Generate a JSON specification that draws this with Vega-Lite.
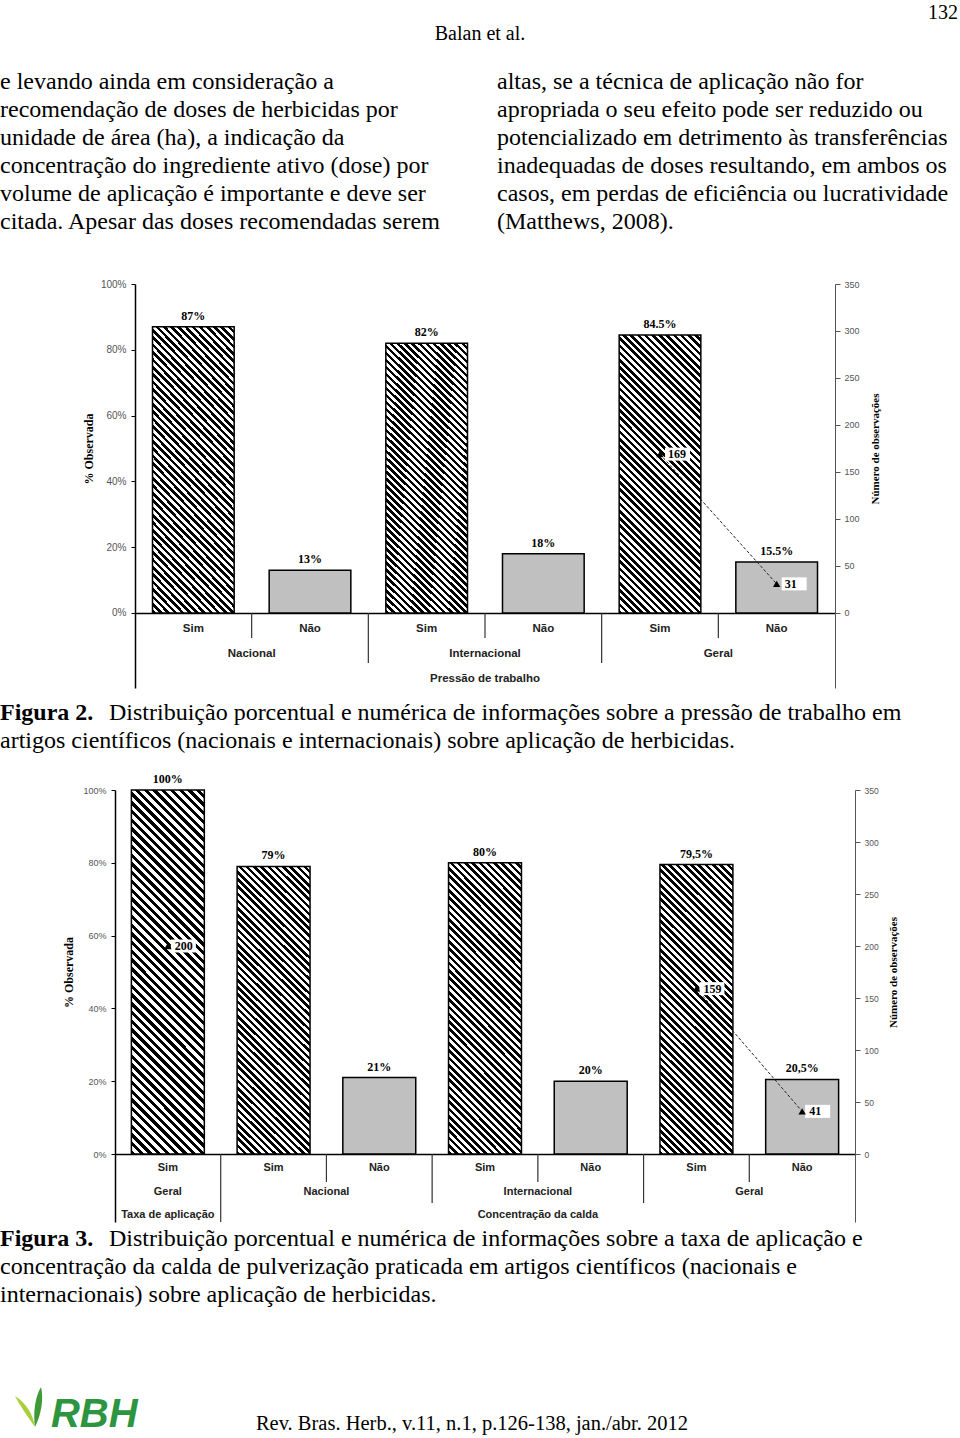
{
"$schema":"https://vega.github.io/schema/vega-lite/v6.json",
"background":"white",
"padding":0,
"spacing":0,
"bounds":"flush",
"config":{"view":{"stroke":null}},
"vconcat":[
{
"width":960,"height":284,
"data":{"values":[
{"col":"left","line":1,"text":"e levando ainda em consideração a"},
{"col":"left","line":2,"text":"recomendação de doses de herbicidas por"},
{"col":"left","line":3,"text":"unidade de área (ha), a indicação da"},
{"col":"left","line":4,"text":"concentração do ingrediente ativo (dose) por"},
{"col":"left","line":5,"text":"volume de aplicação é importante e deve ser"},
{"col":"left","line":6,"text":"citada. Apesar das doses recomendadas serem"},
{"col":"right","line":1,"text":"altas, se a técnica de aplicação não for"},
{"col":"right","line":2,"text":"apropriada o seu efeito pode ser reduzido ou"},
{"col":"right","line":3,"text":"potencializado em detrimento às transferências"},
{"col":"right","line":4,"text":"inadequadas de doses resultando, em ambos os"},
{"col":"right","line":5,"text":"casos, em perdas de eficiência ou lucratividade"},
{"col":"right","line":6,"text":"(Matthews, 2008)."}
]},
"layer":[
{"mark":{"type":"text","align":"left","baseline":"alphabetic","font":"Liberation Serif","fontSize":24,"color":"#000"},
"encoding":{
"x":{"field":"col","type":"nominal","bandPosition":0,"scale":{"type":"band","domain":["left","right"],"paddingInner":0.0684,"paddingOuter":0},"axis":null},
"y":{"field":"line","type":"quantitative","scale":{"domain":[-2.1786,7.9643],"reverse":true,"nice":false,"zero":false},"axis":null},
"text":{"field":"text"}}},
{"data":{"values":[{"text":"Balan et al."}]},
"mark":{"type":"text","align":"center","baseline":"alphabetic","font":"Liberation Serif","fontSize":20,"color":"#000"},
"encoding":{"x":{"datum":"left","bandPosition":1.0367,"axis":null},"y":{"datum":-0.75,"axis":null},"text":{"field":"text"}}},
{"data":{"values":[{"text":"132"}]},
"mark":{"type":"text","align":"right","baseline":"alphabetic","font":"Liberation Serif","fontSize":20,"color":"#000"},
"encoding":{"x":{"datum":"right","bandPosition":0.9957,"axis":null},"y":{"datum":-1.5,"axis":null},"text":{"field":"text"}}}
]
},
{
"width":960,"height":404,
"data":{"values":[
{"cat":"N-S","sub":"Sim","grp":"Nacional","l3":"Pressão de trabalho","pct":87,"label":"87%"},
{"cat":"N-N","sub":"Não","grp":"Nacional","l3":"Pressão de trabalho","pct":13,"label":"13%"},
{"cat":"I-S","sub":"Sim","grp":"Internacional","l3":"Pressão de trabalho","pct":82,"label":"82%"},
{"cat":"I-N","sub":"Não","grp":"Internacional","l3":"Pressão de trabalho","pct":18,"label":"18%"},
{"cat":"G-S","sub":"Sim","grp":"Geral","l3":"Pressão de trabalho","pct":84.5,"label":"84.5%","n":169},
{"cat":"G-N","sub":"Não","grp":"Geral","l3":"Pressão de trabalho","pct":15.5,"label":"15.5%","n":31}
]},
"layer":[
{"layer":[
{"mark":{"type":"bar","width":{"band":0.7},"stroke":"#000","strokeWidth":1.5},
"encoding":{
"x":{"field":"cat","type":"nominal","scale":{"domain":["N-S","N-N","I-S","I-N","G-S","G-N"],"range":[135,835],"paddingInner":0,"paddingOuter":0},
"axis":{"orient":"bottom","offset":-75,"domain":true,"domainColor":"#000","domainWidth":1.5,"ticks":false,"labels":false,"title":null,"grid":false}},
"y":{"field":"pct","type":"quantitative","scale":{"domain":[-22.8,100],"nice":false,"zero":false},
"axis":{"orient":"left","offset":-135,"values":[0,20,40,60,80,100],"labelExpr":"datum.value + '%'","labelFont":"Liberation Sans","labelFontSize":10,"labelColor":"#555","labelPadding":5,"tickSize":4,"tickColor":"#000","domainColor":"#000","domainWidth":1.5,"grid":false,"title":"% Observada","titleFont":"Liberation Serif","titleFontSize":12,"titleFontWeight":"bold","titleColor":"#000","titleAngle":270,"titleX":-47,"titleY":164.5,"titleBaseline":"middle","titleAlign":"center"}},
"y2":{"datum":0},
"color":{"condition":{"test":"datum.sub == 'Sim'","value":{"gradient":"linear","x1":0,"y1":1,"x2":0.35,"y2":-0.191,"stops":[
{"offset":0,"color":"#000"},{"offset":0.01,"color":"#000"},{"offset":0.01,"color":"#fff"},{"offset":0.02,"color":"#fff"},{"offset":0.02,"color":"#000"},{"offset":0.03,"color":"#000"},{"offset":0.03,"color":"#fff"},{"offset":0.04,"color":"#fff"},{"offset":0.04,"color":"#000"},{"offset":0.05,"color":"#000"},{"offset":0.05,"color":"#fff"},{"offset":0.06,"color":"#fff"},{"offset":0.06,"color":"#000"},{"offset":0.07,"color":"#000"},{"offset":0.07,"color":"#fff"},{"offset":0.08,"color":"#fff"},{"offset":0.08,"color":"#000"},{"offset":0.09,"color":"#000"},{"offset":0.09,"color":"#fff"},{"offset":0.1,"color":"#fff"},
{"offset":0.1,"color":"#000"},{"offset":0.11,"color":"#000"},{"offset":0.11,"color":"#fff"},{"offset":0.12,"color":"#fff"},{"offset":0.12,"color":"#000"},{"offset":0.13,"color":"#000"},{"offset":0.13,"color":"#fff"},{"offset":0.14,"color":"#fff"},{"offset":0.14,"color":"#000"},{"offset":0.15,"color":"#000"},{"offset":0.15,"color":"#fff"},{"offset":0.16,"color":"#fff"},{"offset":0.16,"color":"#000"},{"offset":0.17,"color":"#000"},{"offset":0.17,"color":"#fff"},{"offset":0.18,"color":"#fff"},{"offset":0.18,"color":"#000"},{"offset":0.19,"color":"#000"},{"offset":0.19,"color":"#fff"},{"offset":0.2,"color":"#fff"},
{"offset":0.2,"color":"#000"},{"offset":0.21,"color":"#000"},{"offset":0.21,"color":"#fff"},{"offset":0.22,"color":"#fff"},{"offset":0.22,"color":"#000"},{"offset":0.23,"color":"#000"},{"offset":0.23,"color":"#fff"},{"offset":0.24,"color":"#fff"},{"offset":0.24,"color":"#000"},{"offset":0.25,"color":"#000"},{"offset":0.25,"color":"#fff"},{"offset":0.26,"color":"#fff"},{"offset":0.26,"color":"#000"},{"offset":0.27,"color":"#000"},{"offset":0.27,"color":"#fff"},{"offset":0.28,"color":"#fff"},{"offset":0.28,"color":"#000"},{"offset":0.29,"color":"#000"},{"offset":0.29,"color":"#fff"},{"offset":0.3,"color":"#fff"},
{"offset":0.3,"color":"#000"},{"offset":0.31,"color":"#000"},{"offset":0.31,"color":"#fff"},{"offset":0.32,"color":"#fff"},{"offset":0.32,"color":"#000"},{"offset":0.33,"color":"#000"},{"offset":0.33,"color":"#fff"},{"offset":0.34,"color":"#fff"},{"offset":0.34,"color":"#000"},{"offset":0.35,"color":"#000"},{"offset":0.35,"color":"#fff"},{"offset":0.36,"color":"#fff"},{"offset":0.36,"color":"#000"},{"offset":0.37,"color":"#000"},{"offset":0.37,"color":"#fff"},{"offset":0.38,"color":"#fff"},{"offset":0.38,"color":"#000"},{"offset":0.39,"color":"#000"},{"offset":0.39,"color":"#fff"},{"offset":0.4,"color":"#fff"},
{"offset":0.4,"color":"#000"},{"offset":0.41,"color":"#000"},{"offset":0.41,"color":"#fff"},{"offset":0.42,"color":"#fff"},{"offset":0.42,"color":"#000"},{"offset":0.43,"color":"#000"},{"offset":0.43,"color":"#fff"},{"offset":0.44,"color":"#fff"},{"offset":0.44,"color":"#000"},{"offset":0.45,"color":"#000"},{"offset":0.45,"color":"#fff"},{"offset":0.46,"color":"#fff"},{"offset":0.46,"color":"#000"},{"offset":0.47,"color":"#000"},{"offset":0.47,"color":"#fff"},{"offset":0.48,"color":"#fff"},{"offset":0.48,"color":"#000"},{"offset":0.49,"color":"#000"},{"offset":0.49,"color":"#fff"},{"offset":0.5,"color":"#fff"},
{"offset":0.5,"color":"#000"},{"offset":0.51,"color":"#000"},{"offset":0.51,"color":"#fff"},{"offset":0.52,"color":"#fff"},{"offset":0.52,"color":"#000"},{"offset":0.53,"color":"#000"},{"offset":0.53,"color":"#fff"},{"offset":0.54,"color":"#fff"},{"offset":0.54,"color":"#000"},{"offset":0.55,"color":"#000"},{"offset":0.55,"color":"#fff"},{"offset":0.56,"color":"#fff"},{"offset":0.56,"color":"#000"},{"offset":0.57,"color":"#000"},{"offset":0.57,"color":"#fff"},{"offset":0.58,"color":"#fff"},{"offset":0.58,"color":"#000"},{"offset":0.59,"color":"#000"},{"offset":0.59,"color":"#fff"},{"offset":0.6,"color":"#fff"},
{"offset":0.6,"color":"#000"},{"offset":0.61,"color":"#000"},{"offset":0.61,"color":"#fff"},{"offset":0.62,"color":"#fff"},{"offset":0.62,"color":"#000"},{"offset":0.63,"color":"#000"},{"offset":0.63,"color":"#fff"},{"offset":0.64,"color":"#fff"},{"offset":0.64,"color":"#000"},{"offset":0.65,"color":"#000"},{"offset":0.65,"color":"#fff"},{"offset":0.66,"color":"#fff"},{"offset":0.66,"color":"#000"},{"offset":0.67,"color":"#000"},{"offset":0.67,"color":"#fff"},{"offset":0.68,"color":"#fff"},{"offset":0.68,"color":"#000"},{"offset":0.69,"color":"#000"},{"offset":0.69,"color":"#fff"},{"offset":0.7,"color":"#fff"},
{"offset":0.7,"color":"#000"},{"offset":0.71,"color":"#000"},{"offset":0.71,"color":"#fff"},{"offset":0.72,"color":"#fff"},{"offset":0.72,"color":"#000"},{"offset":0.73,"color":"#000"},{"offset":0.73,"color":"#fff"},{"offset":0.74,"color":"#fff"},{"offset":0.74,"color":"#000"},{"offset":0.75,"color":"#000"},{"offset":0.75,"color":"#fff"},{"offset":0.76,"color":"#fff"},{"offset":0.76,"color":"#000"},{"offset":0.77,"color":"#000"},{"offset":0.77,"color":"#fff"},{"offset":0.78,"color":"#fff"},{"offset":0.78,"color":"#000"},{"offset":0.79,"color":"#000"},{"offset":0.79,"color":"#fff"},{"offset":0.8,"color":"#fff"},
{"offset":0.8,"color":"#000"},{"offset":0.81,"color":"#000"},{"offset":0.81,"color":"#fff"},{"offset":0.82,"color":"#fff"},{"offset":0.82,"color":"#000"},{"offset":0.83,"color":"#000"},{"offset":0.83,"color":"#fff"},{"offset":0.84,"color":"#fff"},{"offset":0.84,"color":"#000"},{"offset":0.85,"color":"#000"},{"offset":0.85,"color":"#fff"},{"offset":0.86,"color":"#fff"},{"offset":0.86,"color":"#000"},{"offset":0.87,"color":"#000"},{"offset":0.87,"color":"#fff"},{"offset":0.88,"color":"#fff"},{"offset":0.88,"color":"#000"},{"offset":0.89,"color":"#000"},{"offset":0.89,"color":"#fff"},{"offset":0.9,"color":"#fff"},
{"offset":0.9,"color":"#000"},{"offset":0.91,"color":"#000"},{"offset":0.91,"color":"#fff"},{"offset":0.92,"color":"#fff"},{"offset":0.92,"color":"#000"},{"offset":0.93,"color":"#000"},{"offset":0.93,"color":"#fff"},{"offset":0.94,"color":"#fff"},{"offset":0.94,"color":"#000"},{"offset":0.95,"color":"#000"},{"offset":0.95,"color":"#fff"},{"offset":0.96,"color":"#fff"},{"offset":0.96,"color":"#000"},{"offset":0.97,"color":"#000"},{"offset":0.97,"color":"#fff"},{"offset":0.98,"color":"#fff"},{"offset":0.98,"color":"#000"},{"offset":0.99,"color":"#000"},{"offset":0.99,"color":"#fff"},{"offset":1,"color":"#fff"}
]}},"value":"#c0c0c0"}
}},
{"mark":{"type":"text","baseline":"bottom","dy":-4,"font":"Liberation Serif","fontWeight":"bold","fontSize":12,"color":"#000"},
"encoding":{"x":{"field":"cat","type":"nominal"},"y":{"field":"pct","type":"quantitative"},"text":{"field":"label"}}},
{"transform":[{"filter":"datum.sub == 'Não'"}],
"mark":{"type":"rule","color":"#333","strokeWidth":1.2},
"encoding":{"x":{"field":"cat","type":"nominal","bandPosition":0},"y":{"datum":0},"y2":{"datum":-7.6}}},
{"transform":[{"filter":"datum.sub == 'Sim' && datum.grp != 'Nacional'"}],
"mark":{"type":"rule","color":"#333","strokeWidth":1.2},
"encoding":{"x":{"field":"cat","type":"nominal","bandPosition":0},"y":{"datum":0},"y2":{"datum":-15.2}}},
{"mark":{"type":"text","font":"Liberation Sans","fontWeight":"bold","fontSize":11.5,"color":"#222"},
"encoding":{"x":{"field":"cat","type":"nominal"},"y":{"datum":-4.86},"text":{"field":"sub"}}},
{"transform":[{"filter":"datum.sub == 'Não'"}],
"mark":{"type":"text","font":"Liberation Sans","fontWeight":"bold","fontSize":11.5,"color":"#222"},
"encoding":{"x":{"field":"cat","type":"nominal","bandPosition":0},"y":{"datum":-12.46},"text":{"field":"grp"}}},
{"transform":[{"filter":"datum.cat == 'I-N'"}],
"mark":{"type":"text","font":"Liberation Sans","fontWeight":"bold","fontSize":11.5,"color":"#222"},
"encoding":{"x":{"field":"cat","type":"nominal","bandPosition":0},"y":{"datum":-20.06},"text":{"field":"l3"}}}
]},
{"transform":[{"filter":"isValid(datum.n)"}],
"layer":[
{"mark":{"type":"line","color":"#222","strokeWidth":1,"strokeDash":[3,2]},
"encoding":{"x":{"field":"cat","type":"nominal"},
"y":{"field":"n","type":"quantitative","scale":{"domain":[-79.79,350],"nice":false,"zero":false},
"axis":{"orient":"right","offset":-125,"values":[0,50,100,150,200,250,300,350],"labelFont":"Liberation Sans","labelFontSize":9,"labelColor":"#555","labelPadding":4,"tickSize":5,"tickColor":"#555","domainColor":"#555","domainWidth":1,"grid":false,"title":"Número de observações","titleFont":"Liberation Serif","titleFontSize":11,"titleFontWeight":"bold","titleColor":"#000","titleAngle":270,"titleX":40,"titleY":164.5,"titleBaseline":"middle","titleAlign":"center"}}}},
{"mark":{"type":"point","shape":"M0.5,-0.65H3V0.65H0.5Z","filled":true,"color":"#fff","opacity":1,"size":400,"strokeWidth":0},
"encoding":{"x":{"field":"cat","type":"nominal"},"y":{"field":"n","type":"quantitative"}}},
{"mark":{"type":"point","shape":"triangle-up","filled":true,"color":"#000","opacity":1,"size":55},
"encoding":{"x":{"field":"cat","type":"nominal"},"y":{"field":"n","type":"quantitative"}}},
{"mark":{"type":"text","align":"left","dx":8,"font":"Liberation Serif","fontWeight":"bold","fontSize":12,"color":"#000"},
"encoding":{"x":{"field":"cat","type":"nominal"},"y":{"field":"n","type":"quantitative"},"text":{"field":"n","type":"nominal"}}}
]}
],
"resolve":{"scale":{"y":"independent"}}
},
{
"width":960,"height":102,
"data":{"values":[
{"line":1,"part":"b","text":"Figura 2."},
{"line":1,"part":"a","text":"Distribuição porcentual e numérica de informações sobre a pressão de trabalho em"},
{"line":2,"part":"c","text":"artigos científicos (nacionais e internacionais) sobre aplicação de herbicidas."}
]},
"layer":[
{"transform":[{"filter":"datum.part == 'b'"}],
"mark":{"type":"text","align":"left","baseline":"alphabetic","font":"Liberation Serif","fontSize":24,"fontWeight":"bold","color":"#000"},
"encoding":{"x":{"datum":"left","bandPosition":0,"scale":{"type":"band","domain":["left","right"],"paddingInner":0.0684,"paddingOuter":0},"axis":null},
"y":{"field":"line","type":"quantitative","scale":{"domain":[-0.1429,3.5],"reverse":true,"nice":false,"zero":false},"axis":null},"text":{"field":"text"}}},
{"transform":[{"filter":"datum.part == 'a'"}],
"mark":{"type":"text","align":"left","baseline":"alphabetic","font":"Liberation Serif","fontSize":24,"color":"#000"},
"encoding":{"x":{"datum":"left","bandPosition":0.2354,"axis":null},"y":{"field":"line","type":"quantitative","axis":null},"text":{"field":"text"}}},
{"transform":[{"filter":"datum.part == 'c'"}],
"mark":{"type":"text","align":"left","baseline":"alphabetic","font":"Liberation Serif","fontSize":24,"color":"#000"},
"encoding":{"x":{"datum":"left","bandPosition":0,"axis":null},"y":{"field":"line","type":"quantitative","axis":null},"text":{"field":"text"}}}
]
},
{
"width":960,"height":432,
"data":{"values":[
{"cat":"T-G-S","sub":"Sim","grp":"Geral","l3":"Taxa de aplicação","pct":100,"label":"100%","n":200},
{"cat":"C-N-S","sub":"Sim","grp":"Nacional","l3":"Concentração da calda","pct":79,"label":"79%"},
{"cat":"C-N-N","sub":"Não","grp":"Nacional","l3":"Concentração da calda","pct":21,"label":"21%"},
{"cat":"C-I-S","sub":"Sim","grp":"Internacional","l3":"Concentração da calda","pct":80,"label":"80%"},
{"cat":"C-I-N","sub":"Não","grp":"Internacional","l3":"Concentração da calda","pct":20,"label":"20%"},
{"cat":"C-G-S","sub":"Sim","grp":"Geral","l3":"Concentração da calda","pct":79.5,"label":"79,5%","n":159},
{"cat":"C-G-N","sub":"Não","grp":"Geral","l3":"Concentração da calda","pct":20.5,"label":"20,5%","n":41}
]},
"layer":[
{"layer":[
{"mark":{"type":"bar","width":{"band":0.69},"stroke":"#000","strokeWidth":1.5},
"encoding":{
"x":{"field":"cat","type":"nominal","scale":{"domain":["T-G-S","C-N-S","C-N-N","C-I-S","C-I-N","C-G-S","C-G-N"],"range":[115,855],"paddingInner":0,"paddingOuter":0},
"axis":{"orient":"bottom","offset":-68,"domain":true,"domainColor":"#000","domainWidth":1.5,"ticks":false,"labels":false,"title":null,"grid":false}},
"y":{"field":"pct","type":"quantitative","scale":{"domain":[-18.68,100],"nice":false,"zero":false},
"axis":{"orient":"left","offset":-115,"values":[0,20,40,60,80,100],"labelExpr":"datum.value + '%'","labelFont":"Liberation Sans","labelFontSize":9,"labelColor":"#555","labelPadding":5,"tickSize":4,"tickColor":"#000","domainColor":"#000","domainWidth":1.5,"grid":false,"title":"% Observada","titleFont":"Liberation Serif","titleFontSize":12,"titleFontWeight":"bold","titleColor":"#000","titleAngle":270,"titleX":-47,"titleY":182,"titleBaseline":"middle","titleAlign":"center"}},
"y2":{"datum":0},
"color":{"condition":[
{"test":"datum.pct == 100","value":{"gradient":"linear","x1":0,"y1":1,"x2":0.2315,"y2":-0.154,"stops":[
{"offset":0,"color":"#000"},{"offset":0.01,"color":"#000"},{"offset":0.01,"color":"#fff"},{"offset":0.02,"color":"#fff"},{"offset":0.02,"color":"#000"},{"offset":0.03,"color":"#000"},{"offset":0.03,"color":"#fff"},{"offset":0.04,"color":"#fff"},{"offset":0.04,"color":"#000"},{"offset":0.05,"color":"#000"},{"offset":0.05,"color":"#fff"},{"offset":0.06,"color":"#fff"},{"offset":0.06,"color":"#000"},{"offset":0.07,"color":"#000"},{"offset":0.07,"color":"#fff"},{"offset":0.08,"color":"#fff"},{"offset":0.08,"color":"#000"},{"offset":0.09,"color":"#000"},{"offset":0.09,"color":"#fff"},{"offset":0.1,"color":"#fff"},
{"offset":0.1,"color":"#000"},{"offset":0.11,"color":"#000"},{"offset":0.11,"color":"#fff"},{"offset":0.12,"color":"#fff"},{"offset":0.12,"color":"#000"},{"offset":0.13,"color":"#000"},{"offset":0.13,"color":"#fff"},{"offset":0.14,"color":"#fff"},{"offset":0.14,"color":"#000"},{"offset":0.15,"color":"#000"},{"offset":0.15,"color":"#fff"},{"offset":0.16,"color":"#fff"},{"offset":0.16,"color":"#000"},{"offset":0.17,"color":"#000"},{"offset":0.17,"color":"#fff"},{"offset":0.18,"color":"#fff"},{"offset":0.18,"color":"#000"},{"offset":0.19,"color":"#000"},{"offset":0.19,"color":"#fff"},{"offset":0.2,"color":"#fff"},
{"offset":0.2,"color":"#000"},{"offset":0.21,"color":"#000"},{"offset":0.21,"color":"#fff"},{"offset":0.22,"color":"#fff"},{"offset":0.22,"color":"#000"},{"offset":0.23,"color":"#000"},{"offset":0.23,"color":"#fff"},{"offset":0.24,"color":"#fff"},{"offset":0.24,"color":"#000"},{"offset":0.25,"color":"#000"},{"offset":0.25,"color":"#fff"},{"offset":0.26,"color":"#fff"},{"offset":0.26,"color":"#000"},{"offset":0.27,"color":"#000"},{"offset":0.27,"color":"#fff"},{"offset":0.28,"color":"#fff"},{"offset":0.28,"color":"#000"},{"offset":0.29,"color":"#000"},{"offset":0.29,"color":"#fff"},{"offset":0.3,"color":"#fff"},
{"offset":0.3,"color":"#000"},{"offset":0.31,"color":"#000"},{"offset":0.31,"color":"#fff"},{"offset":0.32,"color":"#fff"},{"offset":0.32,"color":"#000"},{"offset":0.33,"color":"#000"},{"offset":0.33,"color":"#fff"},{"offset":0.34,"color":"#fff"},{"offset":0.34,"color":"#000"},{"offset":0.35,"color":"#000"},{"offset":0.35,"color":"#fff"},{"offset":0.36,"color":"#fff"},{"offset":0.36,"color":"#000"},{"offset":0.37,"color":"#000"},{"offset":0.37,"color":"#fff"},{"offset":0.38,"color":"#fff"},{"offset":0.38,"color":"#000"},{"offset":0.39,"color":"#000"},{"offset":0.39,"color":"#fff"},{"offset":0.4,"color":"#fff"},
{"offset":0.4,"color":"#000"},{"offset":0.41,"color":"#000"},{"offset":0.41,"color":"#fff"},{"offset":0.42,"color":"#fff"},{"offset":0.42,"color":"#000"},{"offset":0.43,"color":"#000"},{"offset":0.43,"color":"#fff"},{"offset":0.44,"color":"#fff"},{"offset":0.44,"color":"#000"},{"offset":0.45,"color":"#000"},{"offset":0.45,"color":"#fff"},{"offset":0.46,"color":"#fff"},{"offset":0.46,"color":"#000"},{"offset":0.47,"color":"#000"},{"offset":0.47,"color":"#fff"},{"offset":0.48,"color":"#fff"},{"offset":0.48,"color":"#000"},{"offset":0.49,"color":"#000"},{"offset":0.49,"color":"#fff"},{"offset":0.5,"color":"#fff"},
{"offset":0.5,"color":"#000"},{"offset":0.51,"color":"#000"},{"offset":0.51,"color":"#fff"},{"offset":0.52,"color":"#fff"},{"offset":0.52,"color":"#000"},{"offset":0.53,"color":"#000"},{"offset":0.53,"color":"#fff"},{"offset":0.54,"color":"#fff"},{"offset":0.54,"color":"#000"},{"offset":0.55,"color":"#000"},{"offset":0.55,"color":"#fff"},{"offset":0.56,"color":"#fff"},{"offset":0.56,"color":"#000"},{"offset":0.57,"color":"#000"},{"offset":0.57,"color":"#fff"},{"offset":0.58,"color":"#fff"},{"offset":0.58,"color":"#000"},{"offset":0.59,"color":"#000"},{"offset":0.59,"color":"#fff"},{"offset":0.6,"color":"#fff"},
{"offset":0.6,"color":"#000"},{"offset":0.61,"color":"#000"},{"offset":0.61,"color":"#fff"},{"offset":0.62,"color":"#fff"},{"offset":0.62,"color":"#000"},{"offset":0.63,"color":"#000"},{"offset":0.63,"color":"#fff"},{"offset":0.64,"color":"#fff"},{"offset":0.64,"color":"#000"},{"offset":0.65,"color":"#000"},{"offset":0.65,"color":"#fff"},{"offset":0.66,"color":"#fff"},{"offset":0.66,"color":"#000"},{"offset":0.67,"color":"#000"},{"offset":0.67,"color":"#fff"},{"offset":0.68,"color":"#fff"},{"offset":0.68,"color":"#000"},{"offset":0.69,"color":"#000"},{"offset":0.69,"color":"#fff"},{"offset":0.7,"color":"#fff"},
{"offset":0.7,"color":"#000"},{"offset":0.71,"color":"#000"},{"offset":0.71,"color":"#fff"},{"offset":0.72,"color":"#fff"},{"offset":0.72,"color":"#000"},{"offset":0.73,"color":"#000"},{"offset":0.73,"color":"#fff"},{"offset":0.74,"color":"#fff"},{"offset":0.74,"color":"#000"},{"offset":0.75,"color":"#000"},{"offset":0.75,"color":"#fff"},{"offset":0.76,"color":"#fff"},{"offset":0.76,"color":"#000"},{"offset":0.77,"color":"#000"},{"offset":0.77,"color":"#fff"},{"offset":0.78,"color":"#fff"},{"offset":0.78,"color":"#000"},{"offset":0.79,"color":"#000"},{"offset":0.79,"color":"#fff"},{"offset":0.8,"color":"#fff"},
{"offset":0.8,"color":"#000"},{"offset":0.81,"color":"#000"},{"offset":0.81,"color":"#fff"},{"offset":0.82,"color":"#fff"},{"offset":0.82,"color":"#000"},{"offset":0.83,"color":"#000"},{"offset":0.83,"color":"#fff"},{"offset":0.84,"color":"#fff"},{"offset":0.84,"color":"#000"},{"offset":0.85,"color":"#000"},{"offset":0.85,"color":"#fff"},{"offset":0.86,"color":"#fff"},{"offset":0.86,"color":"#000"},{"offset":0.87,"color":"#000"},{"offset":0.87,"color":"#fff"},{"offset":0.88,"color":"#fff"},{"offset":0.88,"color":"#000"},{"offset":0.89,"color":"#000"},{"offset":0.89,"color":"#fff"},{"offset":0.9,"color":"#fff"},
{"offset":0.9,"color":"#000"},{"offset":0.91,"color":"#000"},{"offset":0.91,"color":"#fff"},{"offset":0.92,"color":"#fff"},{"offset":0.92,"color":"#000"},{"offset":0.93,"color":"#000"},{"offset":0.93,"color":"#fff"},{"offset":0.94,"color":"#fff"},{"offset":0.94,"color":"#000"},{"offset":0.95,"color":"#000"},{"offset":0.95,"color":"#fff"},{"offset":0.96,"color":"#fff"},{"offset":0.96,"color":"#000"},{"offset":0.97,"color":"#000"},{"offset":0.97,"color":"#fff"},{"offset":0.98,"color":"#fff"},{"offset":0.98,"color":"#000"},{"offset":0.99,"color":"#000"},{"offset":0.99,"color":"#fff"},{"offset":1,"color":"#fff"}
]}},
{"test":"datum.sub == 'Sim'","value":{"gradient":"linear","x1":0,"y1":1,"x2":0.296,"y2":-0.177,"stops":[
{"offset":0,"color":"#000"},{"offset":0.01,"color":"#000"},{"offset":0.01,"color":"#fff"},{"offset":0.02,"color":"#fff"},{"offset":0.02,"color":"#000"},{"offset":0.03,"color":"#000"},{"offset":0.03,"color":"#fff"},{"offset":0.04,"color":"#fff"},{"offset":0.04,"color":"#000"},{"offset":0.05,"color":"#000"},{"offset":0.05,"color":"#fff"},{"offset":0.06,"color":"#fff"},{"offset":0.06,"color":"#000"},{"offset":0.07,"color":"#000"},{"offset":0.07,"color":"#fff"},{"offset":0.08,"color":"#fff"},{"offset":0.08,"color":"#000"},{"offset":0.09,"color":"#000"},{"offset":0.09,"color":"#fff"},{"offset":0.1,"color":"#fff"},
{"offset":0.1,"color":"#000"},{"offset":0.11,"color":"#000"},{"offset":0.11,"color":"#fff"},{"offset":0.12,"color":"#fff"},{"offset":0.12,"color":"#000"},{"offset":0.13,"color":"#000"},{"offset":0.13,"color":"#fff"},{"offset":0.14,"color":"#fff"},{"offset":0.14,"color":"#000"},{"offset":0.15,"color":"#000"},{"offset":0.15,"color":"#fff"},{"offset":0.16,"color":"#fff"},{"offset":0.16,"color":"#000"},{"offset":0.17,"color":"#000"},{"offset":0.17,"color":"#fff"},{"offset":0.18,"color":"#fff"},{"offset":0.18,"color":"#000"},{"offset":0.19,"color":"#000"},{"offset":0.19,"color":"#fff"},{"offset":0.2,"color":"#fff"},
{"offset":0.2,"color":"#000"},{"offset":0.21,"color":"#000"},{"offset":0.21,"color":"#fff"},{"offset":0.22,"color":"#fff"},{"offset":0.22,"color":"#000"},{"offset":0.23,"color":"#000"},{"offset":0.23,"color":"#fff"},{"offset":0.24,"color":"#fff"},{"offset":0.24,"color":"#000"},{"offset":0.25,"color":"#000"},{"offset":0.25,"color":"#fff"},{"offset":0.26,"color":"#fff"},{"offset":0.26,"color":"#000"},{"offset":0.27,"color":"#000"},{"offset":0.27,"color":"#fff"},{"offset":0.28,"color":"#fff"},{"offset":0.28,"color":"#000"},{"offset":0.29,"color":"#000"},{"offset":0.29,"color":"#fff"},{"offset":0.3,"color":"#fff"},
{"offset":0.3,"color":"#000"},{"offset":0.31,"color":"#000"},{"offset":0.31,"color":"#fff"},{"offset":0.32,"color":"#fff"},{"offset":0.32,"color":"#000"},{"offset":0.33,"color":"#000"},{"offset":0.33,"color":"#fff"},{"offset":0.34,"color":"#fff"},{"offset":0.34,"color":"#000"},{"offset":0.35,"color":"#000"},{"offset":0.35,"color":"#fff"},{"offset":0.36,"color":"#fff"},{"offset":0.36,"color":"#000"},{"offset":0.37,"color":"#000"},{"offset":0.37,"color":"#fff"},{"offset":0.38,"color":"#fff"},{"offset":0.38,"color":"#000"},{"offset":0.39,"color":"#000"},{"offset":0.39,"color":"#fff"},{"offset":0.4,"color":"#fff"},
{"offset":0.4,"color":"#000"},{"offset":0.41,"color":"#000"},{"offset":0.41,"color":"#fff"},{"offset":0.42,"color":"#fff"},{"offset":0.42,"color":"#000"},{"offset":0.43,"color":"#000"},{"offset":0.43,"color":"#fff"},{"offset":0.44,"color":"#fff"},{"offset":0.44,"color":"#000"},{"offset":0.45,"color":"#000"},{"offset":0.45,"color":"#fff"},{"offset":0.46,"color":"#fff"},{"offset":0.46,"color":"#000"},{"offset":0.47,"color":"#000"},{"offset":0.47,"color":"#fff"},{"offset":0.48,"color":"#fff"},{"offset":0.48,"color":"#000"},{"offset":0.49,"color":"#000"},{"offset":0.49,"color":"#fff"},{"offset":0.5,"color":"#fff"},
{"offset":0.5,"color":"#000"},{"offset":0.51,"color":"#000"},{"offset":0.51,"color":"#fff"},{"offset":0.52,"color":"#fff"},{"offset":0.52,"color":"#000"},{"offset":0.53,"color":"#000"},{"offset":0.53,"color":"#fff"},{"offset":0.54,"color":"#fff"},{"offset":0.54,"color":"#000"},{"offset":0.55,"color":"#000"},{"offset":0.55,"color":"#fff"},{"offset":0.56,"color":"#fff"},{"offset":0.56,"color":"#000"},{"offset":0.57,"color":"#000"},{"offset":0.57,"color":"#fff"},{"offset":0.58,"color":"#fff"},{"offset":0.58,"color":"#000"},{"offset":0.59,"color":"#000"},{"offset":0.59,"color":"#fff"},{"offset":0.6,"color":"#fff"},
{"offset":0.6,"color":"#000"},{"offset":0.61,"color":"#000"},{"offset":0.61,"color":"#fff"},{"offset":0.62,"color":"#fff"},{"offset":0.62,"color":"#000"},{"offset":0.63,"color":"#000"},{"offset":0.63,"color":"#fff"},{"offset":0.64,"color":"#fff"},{"offset":0.64,"color":"#000"},{"offset":0.65,"color":"#000"},{"offset":0.65,"color":"#fff"},{"offset":0.66,"color":"#fff"},{"offset":0.66,"color":"#000"},{"offset":0.67,"color":"#000"},{"offset":0.67,"color":"#fff"},{"offset":0.68,"color":"#fff"},{"offset":0.68,"color":"#000"},{"offset":0.69,"color":"#000"},{"offset":0.69,"color":"#fff"},{"offset":0.7,"color":"#fff"},
{"offset":0.7,"color":"#000"},{"offset":0.71,"color":"#000"},{"offset":0.71,"color":"#fff"},{"offset":0.72,"color":"#fff"},{"offset":0.72,"color":"#000"},{"offset":0.73,"color":"#000"},{"offset":0.73,"color":"#fff"},{"offset":0.74,"color":"#fff"},{"offset":0.74,"color":"#000"},{"offset":0.75,"color":"#000"},{"offset":0.75,"color":"#fff"},{"offset":0.76,"color":"#fff"},{"offset":0.76,"color":"#000"},{"offset":0.77,"color":"#000"},{"offset":0.77,"color":"#fff"},{"offset":0.78,"color":"#fff"},{"offset":0.78,"color":"#000"},{"offset":0.79,"color":"#000"},{"offset":0.79,"color":"#fff"},{"offset":0.8,"color":"#fff"},
{"offset":0.8,"color":"#000"},{"offset":0.81,"color":"#000"},{"offset":0.81,"color":"#fff"},{"offset":0.82,"color":"#fff"},{"offset":0.82,"color":"#000"},{"offset":0.83,"color":"#000"},{"offset":0.83,"color":"#fff"},{"offset":0.84,"color":"#fff"},{"offset":0.84,"color":"#000"},{"offset":0.85,"color":"#000"},{"offset":0.85,"color":"#fff"},{"offset":0.86,"color":"#fff"},{"offset":0.86,"color":"#000"},{"offset":0.87,"color":"#000"},{"offset":0.87,"color":"#fff"},{"offset":0.88,"color":"#fff"},{"offset":0.88,"color":"#000"},{"offset":0.89,"color":"#000"},{"offset":0.89,"color":"#fff"},{"offset":0.9,"color":"#fff"},
{"offset":0.9,"color":"#000"},{"offset":0.91,"color":"#000"},{"offset":0.91,"color":"#fff"},{"offset":0.92,"color":"#fff"},{"offset":0.92,"color":"#000"},{"offset":0.93,"color":"#000"},{"offset":0.93,"color":"#fff"},{"offset":0.94,"color":"#fff"},{"offset":0.94,"color":"#000"},{"offset":0.95,"color":"#000"},{"offset":0.95,"color":"#fff"},{"offset":0.96,"color":"#fff"},{"offset":0.96,"color":"#000"},{"offset":0.97,"color":"#000"},{"offset":0.97,"color":"#fff"},{"offset":0.98,"color":"#fff"},{"offset":0.98,"color":"#000"},{"offset":0.99,"color":"#000"},{"offset":0.99,"color":"#fff"},{"offset":1,"color":"#fff"}
]}}
],"value":"#c0c0c0"}
}},
{"mark":{"type":"text","baseline":"bottom","dy":-4,"font":"Liberation Serif","fontWeight":"bold","fontSize":12,"color":"#000"},
"encoding":{"x":{"field":"cat","type":"nominal"},"y":{"field":"pct","type":"quantitative"},"text":{"field":"label"}}},
{"transform":[{"filter":"datum.sub == 'Não'"}],
"mark":{"type":"rule","color":"#333","strokeWidth":1.2},
"encoding":{"x":{"field":"cat","type":"nominal","bandPosition":0},"y":{"datum":0},"y2":{"datum":-7.69}}},
{"transform":[{"filter":"datum.sub == 'Sim' && datum.l3 == 'Concentração da calda' && datum.grp != 'Nacional'"}],
"mark":{"type":"rule","color":"#333","strokeWidth":1.2},
"encoding":{"x":{"field":"cat","type":"nominal","bandPosition":0},"y":{"datum":0},"y2":{"datum":-13.46}}},
{"transform":[{"filter":"datum.cat == 'C-N-S'"}],
"mark":{"type":"rule","color":"#333","strokeWidth":1.2},
"encoding":{"x":{"field":"cat","type":"nominal","bandPosition":0},"y":{"datum":0},"y2":{"datum":-18.68}}},
{"mark":{"type":"text","font":"Liberation Sans","fontWeight":"bold","fontSize":11,"color":"#222"},
"encoding":{"x":{"field":"cat","type":"nominal"},"y":{"datum":-3.85},"text":{"field":"sub"}}},
{"transform":[{"filter":"datum.sub == 'Não'"}],
"mark":{"type":"text","font":"Liberation Sans","fontWeight":"bold","fontSize":11,"color":"#222"},
"encoding":{"x":{"field":"cat","type":"nominal","bandPosition":0},"y":{"datum":-10.44},"text":{"field":"grp"}}},
{"transform":[{"filter":"datum.cat == 'T-G-S'"}],
"mark":{"type":"text","font":"Liberation Sans","fontWeight":"bold","fontSize":11,"color":"#222"},
"encoding":{"x":{"field":"cat","type":"nominal"},"y":{"datum":-10.44},"text":{"field":"grp"}}},
{"transform":[{"filter":"datum.cat == 'T-G-S'"}],
"mark":{"type":"text","font":"Liberation Sans","fontWeight":"bold","fontSize":11,"color":"#222"},
"encoding":{"x":{"field":"cat","type":"nominal"},"y":{"datum":-16.76},"text":{"field":"l3"}}},
{"transform":[{"filter":"datum.cat == 'C-I-N'"}],
"mark":{"type":"text","font":"Liberation Sans","fontWeight":"bold","fontSize":11,"color":"#222"},
"encoding":{"x":{"field":"cat","type":"nominal","bandPosition":0},"y":{"datum":-16.76},"text":{"field":"l3"}}}
]},
{"transform":[{"filter":"isValid(datum.n)"}],
"layer":[
{"transform":[{"filter":"datum.l3 == 'Concentração da calda'"}],
"mark":{"type":"line","color":"#222","strokeWidth":1,"strokeDash":[3,2]},
"encoding":{"x":{"field":"cat","type":"nominal"},
"y":{"field":"n","type":"quantitative","scale":{"domain":[-65.38,350],"nice":false,"zero":false},
"axis":{"orient":"right","offset":-105,"values":[0,50,100,150,200,250,300,350],"labelFont":"Liberation Sans","labelFontSize":8.5,"labelColor":"#555","labelPadding":4,"tickSize":5,"tickColor":"#555","domainColor":"#555","domainWidth":1,"grid":false,"title":"Número de observações","titleFont":"Liberation Serif","titleFontSize":11,"titleFontWeight":"bold","titleColor":"#000","titleAngle":270,"titleX":38,"titleY":182,"titleBaseline":"middle","titleAlign":"center"}}}},
{"mark":{"type":"point","shape":"M0.3,-0.65H2.8V0.65H0.3Z","filled":true,"color":"#fff","opacity":1,"size":400,"strokeWidth":0},
"encoding":{"x":{"field":"cat","type":"nominal"},"y":{"field":"n","type":"quantitative"}}},
{"mark":{"type":"point","shape":"triangle-up","filled":true,"color":"#000","opacity":1,"size":55},
"encoding":{"x":{"field":"cat","type":"nominal"},"y":{"field":"n","type":"quantitative"}}},
{"mark":{"type":"text","align":"left","dx":7,"font":"Liberation Serif","fontWeight":"bold","fontSize":12,"color":"#000"},
"encoding":{"x":{"field":"cat","type":"nominal"},"y":{"field":"n","type":"quantitative"},"text":{"field":"n","type":"nominal"}}}
]}
],
"resolve":{"scale":{"y":"independent"}}
},
{
"width":960,"height":216,
"data":{"values":[
{"line":1,"part":"b","text":"Figura 3."},
{"line":1,"part":"a","text":"Distribuição porcentual e numérica de informações sobre a taxa de aplicação e"},
{"line":2,"part":"c","text":"concentração da calda de pulverização praticada em artigos científicos (nacionais e"},
{"line":3,"part":"c","text":"internacionais) sobre aplicação de herbicidas."}
]},
"layer":[
{"transform":[{"filter":"datum.part == 'b'"}],
"mark":{"type":"text","align":"left","baseline":"alphabetic","font":"Liberation Serif","fontSize":24,"fontWeight":"bold","color":"#000"},
"encoding":{"x":{"datum":"left","bandPosition":0,"scale":{"type":"band","domain":["left","right"],"paddingInner":0.0684,"paddingOuter":0},"axis":null},
"y":{"field":"line","type":"quantitative","scale":{"domain":[0.1429,7.8571],"reverse":true,"nice":false,"zero":false},"axis":null},"text":{"field":"text"}}},
{"transform":[{"filter":"datum.part == 'a'"}],
"mark":{"type":"text","align":"left","baseline":"alphabetic","font":"Liberation Serif","fontSize":24,"color":"#000"},
"encoding":{"x":{"datum":"left","bandPosition":0.2354,"axis":null},"y":{"field":"line","type":"quantitative","axis":null},"text":{"field":"text"}}},
{"transform":[{"filter":"datum.part == 'c'"}],
"mark":{"type":"text","align":"left","baseline":"alphabetic","font":"Liberation Serif","fontSize":24,"color":"#000"},
"encoding":{"x":{"datum":"left","bandPosition":0,"axis":null},"y":{"field":"line","type":"quantitative","axis":null},"text":{"field":"text"}}},
{"data":{"values":[{"text":"Rev. Bras. Herb., v.11, n.1, p.126-138, jan./abr. 2012"}]},
"mark":{"type":"text","align":"center","baseline":"alphabetic","font":"Liberation Serif","fontSize":20.5,"color":"#000"},
"encoding":{"x":{"datum":"left","bandPosition":1.0194,"axis":null},"y":{"datum":7.571,"axis":null},"text":{"field":"text"}}},
{"data":{"values":[{"text":"RBH"}]},
"mark":{"type":"text","align":"left","baseline":"alphabetic","font":"Liberation Sans","fontSize":40,"fontWeight":"bold","fontStyle":"italic","color":"#2d9440"},
"encoding":{"x":{"datum":"left","bandPosition":0.11,"axis":null},"y":{"datum":7.464,"axis":null},"text":{"field":"text"}}},
{"data":{"values":[{"part":"leaf"}]},
"mark":{"type":"point","shape":"M0.15,1C-0.25,0.45 -0.55,0 -0.85,-0.55C-0.3,-0.2 0.05,0.35 0.15,1Z","filled":true,"color":"#a6cf3a","opacity":1,"size":1600,"strokeWidth":0},
"encoding":{"x":{"datum":"left","bandPosition":0.0691,"axis":null},"y":{"datum":6.75,"axis":null}}},
{"data":{"values":[{"part":"leaf"}]},
"mark":{"type":"point","shape":"M0.15,1C0.05,0.3 0.15,-0.5 0.45,-1C0.6,-0.4 0.45,0.4 0.15,1Z","filled":true,"color":"#3f9a36","opacity":1,"size":1600,"strokeWidth":0},
"encoding":{"x":{"datum":"left","bandPosition":0.0691,"axis":null},"y":{"datum":6.75,"axis":null}}}
]
}
]
}
